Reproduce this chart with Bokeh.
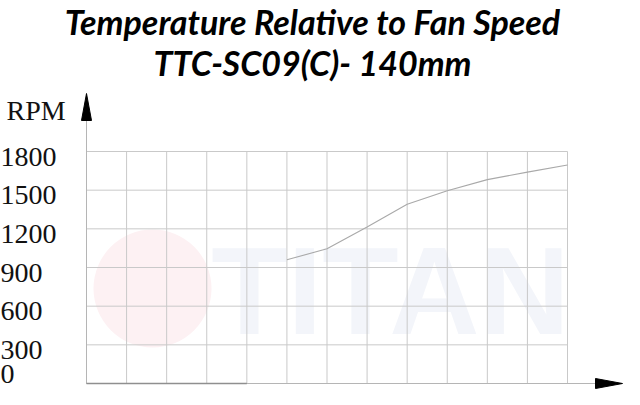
from bokeh.plotting import figure
from bokeh.models import Range1d
from bokeh.core.properties import value
from bokeh.embed import file_html
from bokeh.resources import INLINE

# ---- data ----
x_ticks = [0, 1, 2, 3, 4, 5, 6, 7, 8, 9, 10, 11, 12]
y_ticks = [0, 300, 600, 900, 1200, 1500, 1800]
y_labels = ["0", "300", "600", "900", "1200", "1500", "1800"]
temp_x = [5, 6, 7, 8, 9, 10, 11, 12]
rpm = [960, 1045, 1215, 1390, 1495, 1582, 1640, 1695]
title_1 = "Temperature Relative to Fan Speed"
title_2 = "TTC-SC09(C)- 140mm"
y_name = "RPM"
watermark = "TITAN"

# ---- layout (pixel geometry of the canvas) ----
W, H = 624, 389
XL, XR = 86, 567      # pixel of first / last x tick
YB, YT = 383, 151     # pixel of 0 / 1800 rpm
sx = (XR - XL) / (x_ticks[-1] - x_ticks[0])
sy = (YB - YT) / (y_ticks[-1] - y_ticks[0])


def px2x(px):
    return (px - XL) / sx


def px2y(py):
    return (YB - py) / sy


p = figure(width=W, height=H, output_backend="svg", toolbar_location=None,
           x_range=Range1d(px2x(0), px2x(W)), y_range=Range1d(px2y(H), px2y(0)),
           x_axis_location=None, y_axis_location=None, min_border=0,
           outline_line_color=None, background_fill_color="white",
           border_fill_color="white")
p.xgrid.visible = False
p.ygrid.visible = False

# faint watermark logo
p.scatter(x=[px2x(152)], y=[px2y(288)], size=118, marker="circle",
          fill_color="#fdf1f3", line_color=None)
p.text(x=[px2x(390)], y=[px2y(290)], text=[watermark],
       text_font=value("Liberation Sans"), text_font_style="bold",
       text_font_size="125px", text_color="#f3f5fa",
       text_align="center", text_baseline="middle")

grid_c = "#c9c9c9"
n = len(x_ticks)
m = len(y_ticks)
# vertical grid lines
p.segment(x0=x_ticks, y0=[y_ticks[0]] * n, x1=x_ticks, y1=[y_ticks[-1]] * n,
          line_color=grid_c, line_width=1)
# horizontal grid lines
p.segment(x0=[x_ticks[0]] * m, y0=y_ticks, x1=[x_ticks[-1]] * m, y1=y_ticks,
          line_color=grid_c, line_width=1)

# axes with arrows
ytip, ybase = px2y(93), px2y(120)
xtip, xbase = px2x(622), px2x(595)
p.segment(x0=[x_ticks[0]], y0=[y_ticks[0]], x1=[x_ticks[0]], y1=[ybase],
          line_color="#b5b5b5", line_width=1)
p.segment(x0=[x_ticks[0]], y0=[y_ticks[0]], x1=[xbase], y1=[y_ticks[0]],
          line_color="#b5b5b5", line_width=1)
p.segment(x0=[x_ticks[0]], y0=[y_ticks[0]], x1=[x_ticks[4]], y1=[y_ticks[0]],
          line_color="#8f8f8f", line_width=1.6)
hw_x = 5 / sx
hw_y = 5 / sy
p.patch(x=[x_ticks[0], x_ticks[0] - hw_x, x_ticks[0] + hw_x],
        y=[ytip, ybase, ybase], fill_color="black", line_color="black")
p.patch(x=[xtip, xbase, xbase], y=[y_ticks[0], y_ticks[0] + hw_y, y_ticks[0] - hw_y],
        fill_color="black", line_color="black")

# data line
p.line(temp_x, rpm, line_color="#a9a9a9", line_width=1.1)

# tick labels
serif = value("Liberation Serif")
p.text(x=[px2x(0)] * (m - 1), y=y_ticks[1:], text=y_labels[1:],
       text_font=serif, text_font_size="28px", text_color="#111111",
       text_align="left", text_baseline="middle", y_offset=5)
p.text(x=[px2x(0)], y=y_ticks[:1], text=y_labels[:1],
       text_font=serif, text_font_size="28px", text_color="#111111",
       text_align="left", text_baseline="middle", y_offset=-10)
p.text(x=[px2x(6)], y=[px2y(110)], text=[y_name], text_font=serif,
       text_font_size="28px", text_color="#111111",
       text_align="left", text_baseline="middle")

# titles
p.text(x=[px2x(312)] * 2, y=[px2y(21), px2y(62)], text=[title_1, title_2],
       text_font=value("Lato"), text_font_style="bold italic",
       text_font_size="34px", text_color="#000000",
       text_align="center", text_baseline="middle")

open("out.html", "w").write(file_html(p, INLINE))
